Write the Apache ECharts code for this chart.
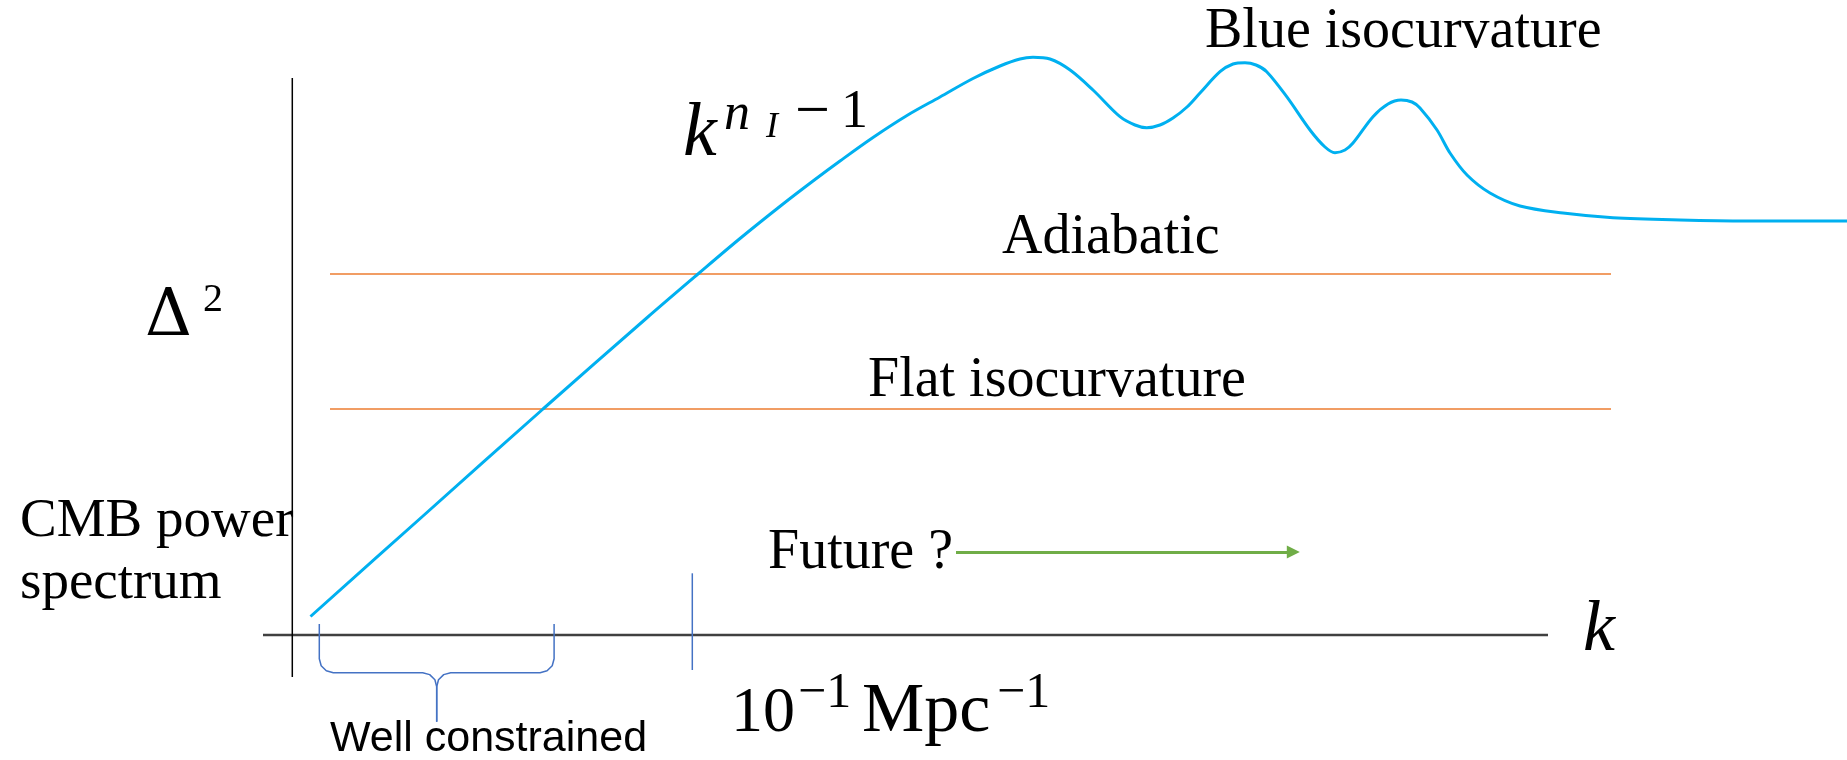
<!DOCTYPE html>
<html>
<head>
<meta charset="utf-8">
<script src="https://cdn.jsdelivr.net/npm/echarts@6/dist/echarts.min.js"></script>
<style>
  html, body { margin: 0; padding: 0; background: #ffffff; }
  #chart { width: 1847px; height: 760px; }
</style>
</head>
<body>
<div id="chart"></div>
<script>
// ---- data (x = log10 k, y = Delta^2 in arbitrary units) ----
const kLog = [-2.909, -2.3465, -1.7465, -1.228, -0.9715, -0.7615, -0.5465, -0.3965, -0.2615, -0.0965,
  0.0735, 0.2385, 0.4035, 0.5385, 0.6385, 0.7035, 0.7885, 0.889, 1.0035, 1.1385,
  1.2135, 1.272, 1.3385, 1.4035, 1.4735, 1.5385, 1.6385, 1.7035, 1.7635, 1.8185,
  1.872, 1.972, 2.0885, 2.1635, 2.2135, 2.2635, 2.3035, 2.4035, 2.4785, 2.5435,
  2.5985, 2.6385, 2.7235, 2.7885, 2.8735, 2.9885, 3.1385, 3.3535, 3.6035, 3.9385,
  4.2735, 4.7735];
const delta2 = [0.185, 1.19, 2.26, 3.17, 3.61, 3.965, 4.31, 4.54, 4.74, 4.975,
  5.195, 5.38, 5.565, 5.69, 5.76, 5.777, 5.76, 5.65, 5.45, 5.183,
  5.10, 5.073, 5.10, 5.17, 5.28, 5.42, 5.633, 5.71, 5.723, 5.70,
  5.633, 5.383, 5.05, 4.88, 4.823, 4.85, 4.92, 5.183, 5.31, 5.35,
  5.33, 5.27, 5.05, 4.82, 4.60, 4.42, 4.29, 4.22, 4.173, 4.15,
  4.14, 4.14];

const adiabaticLevel = 3.61;
const flatLevel = 2.26;
const levelRange = [-2.8115, 3.5935];
const kAxisRange = [-3.1465, 3.2785];
const yAxisX = -3;
const yAxisRange = [5.57, -0.42];
const tickK = -1;              // 10^-1 Mpc^-1
const tickRange = [0.617, -0.35];
const futureRange = [0.3185, 2.005];
const futureLevel = 0.83;
// brace "Well constrained"
const braceLeftX = [-2.865, -2.865, -2.8556, -2.830, -2.795, -2.348, -2.313, -2.287, -2.278, -2.278];
const braceRightX = [-1.691, -1.691, -1.7004, -1.726, -1.761, -2.208, -2.243, -2.269, -2.278, -2.278];
const braceY = [0.11, -0.237, -0.307, -0.358, -0.377, -0.377, -0.396, -0.447, -0.517, -0.867];

const zip = (xs, ys) => xs.map((x, i) => [x, ys[i]]);

const serif = "'Liberation Serif', 'DejaVu Serif', serif";
const sans = "'Liberation Sans', 'DejaVu Sans', sans-serif";

function txt(text, x, y, size, opts) {
  opts = opts || {};
  return {
    type: 'text', x: x, y: y, z: 100,
    style: {
      text: text,
      font: (opts.italic ? 'italic ' : '') + size + 'px ' + (opts.family || serif),
      fill: opts.color || '#000000',
      textAlign: 'left',
      textVerticalAlign: 'middle',
      verticalAlign: 'middle'
    }
  };
}

function seg(points, color, width, z) {
  return {
    type: 'line', data: points, symbol: 'none', silent: true, clip: false, z: z || 2,
    lineStyle: { color: color, width: width }
  };
}

const chart = echarts.init(document.getElementById('chart'), null, { renderer: 'canvas' });
chart.setOption({
  animation: false,
  backgroundColor: '#ffffff',
  grid: { left: 0, right: 0, top: 0, bottom: 0 },
  xAxis: { type: 'value', min: -4.4615, max: 4.7735, show: false },
  yAxis: { type: 'value', min: -1.25, max: 6.35, show: false },
  series: [
    seg([[kAxisRange[0], 0], [kAxisRange[1], 0]], '#404040', 2.5),
    seg([[yAxisX, yAxisRange[0]], [yAxisX, yAxisRange[1]]], '#000000', 1.5),
    seg([[levelRange[0], adiabaticLevel], [levelRange[1], adiabaticLevel]], '#ED7D31', 1.5),
    seg([[levelRange[0], flatLevel], [levelRange[1], flatLevel]], '#ED7D31', 1.5),
    seg([[tickK, tickRange[0]], [tickK, tickRange[1]]], '#4472C4', 1.5),
    seg(zip(braceLeftX, braceY), '#4472C4', 1.5),
    seg(zip(braceRightX, braceY), '#4472C4', 1.5),
    {
      type: 'line', data: zip(kLog, delta2), symbol: 'none', smooth: 0.33, clip: false, z: 5,
      lineStyle: { color: '#00B0F0', width: 3 }
    },
    {
      type: 'lines', coordinateSystem: 'cartesian2d', z: 6,
      symbol: ['none', 'triangle'], symbolSize: [0, 13],
      lineStyle: { color: '#70AD47', width: 3, opacity: 1 },
      data: [{ coords: [[futureRange[0], futureLevel], [futureRange[1], futureLevel]] }]
    }
  ],
  graphic: [
    txt('Blue isocurvature', 1205, 32, 56),
    txt('Adiabatic', 1002, 238.5, 56),
    txt('Flat isocurvature', 868, 381.5, 56),
    txt('Future ?', 768, 553.5, 56),
    txt('CMB power', 20, 521.5, 55),
    txt('spectrum', 20, 583.5, 55),
    txt('Well constrained', 330, 739, 43, { family: sans }),
    txt('Δ', 145, 318, 65, { family: "'DejaVu Serif', serif" }),
    txt('2', 203, 300, 40),
    txt('k', 683, 135, 76, { italic: true }),
    txt('n', 724, 115, 52, { italic: true }),
    txt('I', 766, 128, 36, { italic: true }),
    txt('−', 795, 114, 62),
    txt('1', 841, 112.5, 54),
    txt('k', 1583, 631, 72, { italic: true }),
    txt('10', 731, 714, 64),
    txt('−1', 798, 693.5, 50),
    txt('Mpc', 862, 713, 70),
    txt('−1', 997, 693.5, 50)
  ]
});
</script>
</body>
</html>
